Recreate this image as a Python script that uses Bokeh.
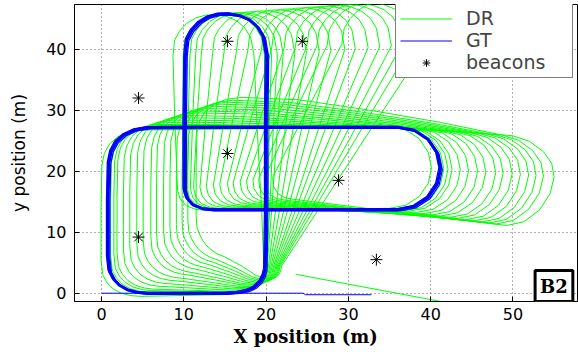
from bokeh.plotting import figure
from bokeh.models import Range1d, Label, Legend, LegendItem, FixedTicker, Title
from bokeh.embed import file_html
from bokeh.resources import INLINE

# ---------------- data ----------------
# ground-truth loop waypoints (one lap, in travel order)
gt_x = [19.9, 19.7, 19.3, 18.6, 17.7, 16.6, 15.0, 13.0, 11.0, 9.0, 7.0, 5.5, 4.3, 3.2, 2.2, 1.5,
        1.0, 0.8, 0.8, 0.8, 0.9, 1.2, 1.8, 2.8, 4.1, 5.7, 12.0, 20.0, 28.0, 34.5,
        36.0, 38.0, 39.7, 40.8, 41.2, 40.8, 39.7, 38.0, 36.0, 28.0, 20.0, 13.5, 12.2, 11.1, 10.4,
        10.1, 10.1, 10.2, 10.4, 11.0, 11.9, 13.0, 14.2, 15.5, 16.8, 18.0, 19.0, 19.7, 20.1,
        20.0, 20.0, 19.9]
gt_y = [4.0, 2.9, 1.9, 1.0, 0.45, 0.15, 0.0, 0.0, 0.0, 0.0, 0.0, 0.0, 0.15, 0.55, 1.3, 2.3,
        3.6, 6.0, 10.0, 15.0, 21.4, 23.3, 24.8, 26.0, 26.8, 27.15, 27.2, 27.2, 27.2, 27.2,
        27.2, 26.7, 25.2, 23.0, 20.45, 17.9, 15.7, 14.2, 13.7, 13.7, 13.7, 13.7, 13.9, 14.5, 15.6,
        17.0, 28.0, 39.0, 41.6, 43.1, 44.4, 45.3, 45.75, 45.8, 45.5, 44.8, 43.6, 42.0, 39.0,
        28.0, 13.7, 4.0]
# small lap-to-lap offsets of the repeated GT laps
gt_lap_dx = [0.0, 0.22, -0.2]
gt_lap_dy = [0.0, -0.2, 0.15]
gt_lap_w = [3.0, 1.2, 1.2]

# dead-reckoning error at each waypoint for the most drifted lap
dr_err_x = [2.0, 2.05, 2.1, 2.3, 2.6, 3.0, 3.8, 5.0, 6.1, 7.0, 7.9, 8.5, 9.1, 9.6, 10.1, 10.4,
            10.6, 10.7, 10.7, 10.7, 10.7, 10.75, 10.8, 10.95, 11.1, 11.3, 12.0, 12.6, 13.2, 13.9,
            14.0, 14.0, 14.0, 13.9, 13.8, 13.7, 13.5, 13.3, 13.2, 11.5, 10.5, 9.8, 10.0, 10.3, 10.5,
            10.7, 14.8, 19.0, 19.1, 19.2, 19.3, 19.3, 19.3, 19.3, 19.3, 19.4, 19.5, 19.5, 19.5,
            14.0, 6.8, 2.0]
dr_err_y = [0.5, 0.65, 0.9, 1.4, 1.9, 2.4, 2.9, 3.6, 4.4, 5.2, 6.0, 6.5, 6.9, 7.2, 7.35, 7.4,
            7.2, 6.8, 6.3, 5.6, 5.0, 5.0, 5.0, 5.0, 5.0, 4.95, 4.5, 2.8, 0.8, -1.2,
            -1.4, -1.8, -2.0, -1.7, -1.4, -1.6, -2.1, -2.5, -2.6, -1.0, 0.5, 1.7, 1.8, 1.9, 1.95,
            2.0, 1.9, 1.8, 1.85, 1.9, 2.0, 2.0, 2.0, 2.0, 2.0, 2.0, 2.0, 2.0, 2.0,
            1.5, 0.9, 0.5]
# right-most x of each DR lap at the east end of the horizontal loop
dr_right_end_x = [40.1, 41.0, 41.6, 42.1, 42.6, 43.6, 44.6, 45.7, 46.7, 47.9, 48.8, 49.9,
                  50.9, 51.9, 52.8, 53.7, 55.0]

# straight start segments
gt_tail_x = [0.0, 24.5, 24.8, 32.8]
gt_tail_y = [0.0, 0.0, -0.25, -0.25]
dr_tail_x = [23.6, 43.0]
dr_tail_y = [3.1, -1.8]

beacon_x = [15.3, 24.4, 4.5, 15.3, 28.8, 4.5, 33.4]
beacon_y = [41.3, 41.3, 32.0, 22.9, 18.5, 9.2, 5.5]

x_ticks = [0, 10, 20, 30, 40, 50]
y_ticks = [0, 10, 20, 30, 40]

# ---------------- build lines ----------------
ref_i = gt_x.index(41.2)
dr_xs, dr_ys = [], []
for r in dr_right_end_x:
    a = (r - gt_x[ref_i]) / dr_err_x[ref_i]
    dr_xs.append([gx + a * ex for gx, ex in zip(gt_x, dr_err_x)])
    dr_ys.append([gy + a * ey for gy, ey in zip(gt_y, dr_err_y)])

p = figure(width=578, height=352, x_range=Range1d(-3.28, 57.96), y_range=Range1d(-1.36, 47.33),
           output_backend="svg", toolbar_location=None,
           min_border_left=74, min_border_right=0, min_border_top=4, min_border_bottom=51)
p.background_fill_color = "white"
p.border_fill_color = "white"
p.outline_line_color = "black"
p.outline_line_width = 1

dr_r = p.multi_line(xs=dr_xs, ys=dr_ys, line_color="#00ff00", line_width=1)
p.line(dr_tail_x, dr_tail_y, line_color="#00ff00", line_width=1)

for dx, dy, w in zip(gt_lap_dx, gt_lap_dy, gt_lap_w):
    p.line([x + dx for x in gt_x], [y + dy for y in gt_y], line_color="#0000ff", line_width=w,
           line_join="round")
gt_r = p.line(gt_tail_x, gt_tail_y, line_color="#0000ff", line_width=1)

bc_r = p.scatter(beacon_x, beacon_y, marker="asterisk", size=12, line_color="black", line_width=1)

# axes
for ax, ticks in ((p.xaxis, x_ticks), (p.yaxis, y_ticks)):
    ax.ticker = FixedTicker(ticks=ticks)
    ax.axis_line_color = "black"
    ax.major_tick_in = 5
    ax.major_tick_out = 0
    ax.minor_tick_line_color = None
    ax.major_label_text_font = "DejaVu Sans"
    ax.major_label_text_font_size = "16px"
    ax.major_label_text_color = "black"
p.xaxis.major_label_standoff = 6
p.yaxis.major_label_standoff = 8

p.yaxis.axis_label = "y position (m)"
p.yaxis.axis_label_text_font = "DejaVu Sans"
p.yaxis.axis_label_text_font_size = "17px"
p.yaxis.axis_label_text_font_style = "normal"
p.yaxis.axis_label_text_color = "black"
p.yaxis.axis_label_standoff = 14

for g in (p.xgrid, p.ygrid):
    g.grid_line_color = "#404040"
    g.grid_line_dash = "1 3"
    g.grid_line_width = 1
    g.grid_line_alpha = 0.8
p.xgrid.ticker = FixedTicker(ticks=x_ticks)
p.ygrid.ticker = FixedTicker(ticks=y_ticks)

p.add_layout(Title(text="X position (m)", align="left", offset=159, standoff=2,
                   text_font="DejaVu Serif", text_font_style="bold", text_font_size="18px",
                   text_color="black"), "below")

p.add_layout(Label(x=54.98, y=1.18, text="B2", text_font="DejaVu Serif", text_font_style="bold",
                   text_font_size="18px", text_color="black", text_align="center",
                   text_baseline="middle", border_line_color="black", border_line_width=3,
                   background_fill_color="white", padding=5))

legend = Legend(items=[LegendItem(label="DR", renderers=[dr_r]),
                       LegendItem(label="GT", renderers=[gt_r]),
                       LegendItem(label="beacons", renderers=[bc_r])],
                location=(321, 223))
legend.border_line_color = "black"
legend.border_line_width = 1
legend.background_fill_color = "white"
legend.background_fill_alpha = 1
legend.label_text_font = "DejaVu Sans"
legend.label_text_font_size = "19px"
legend.glyph_width = 52
legend.glyph_height = 19
legend.label_height = 19
legend.label_width = 102
legend.label_standoff = 14
legend.padding = 4
legend.spacing = 0
legend.margin = 0
p.add_layout(legend)

open("out.html", "w").write(file_html(p, INLINE))
